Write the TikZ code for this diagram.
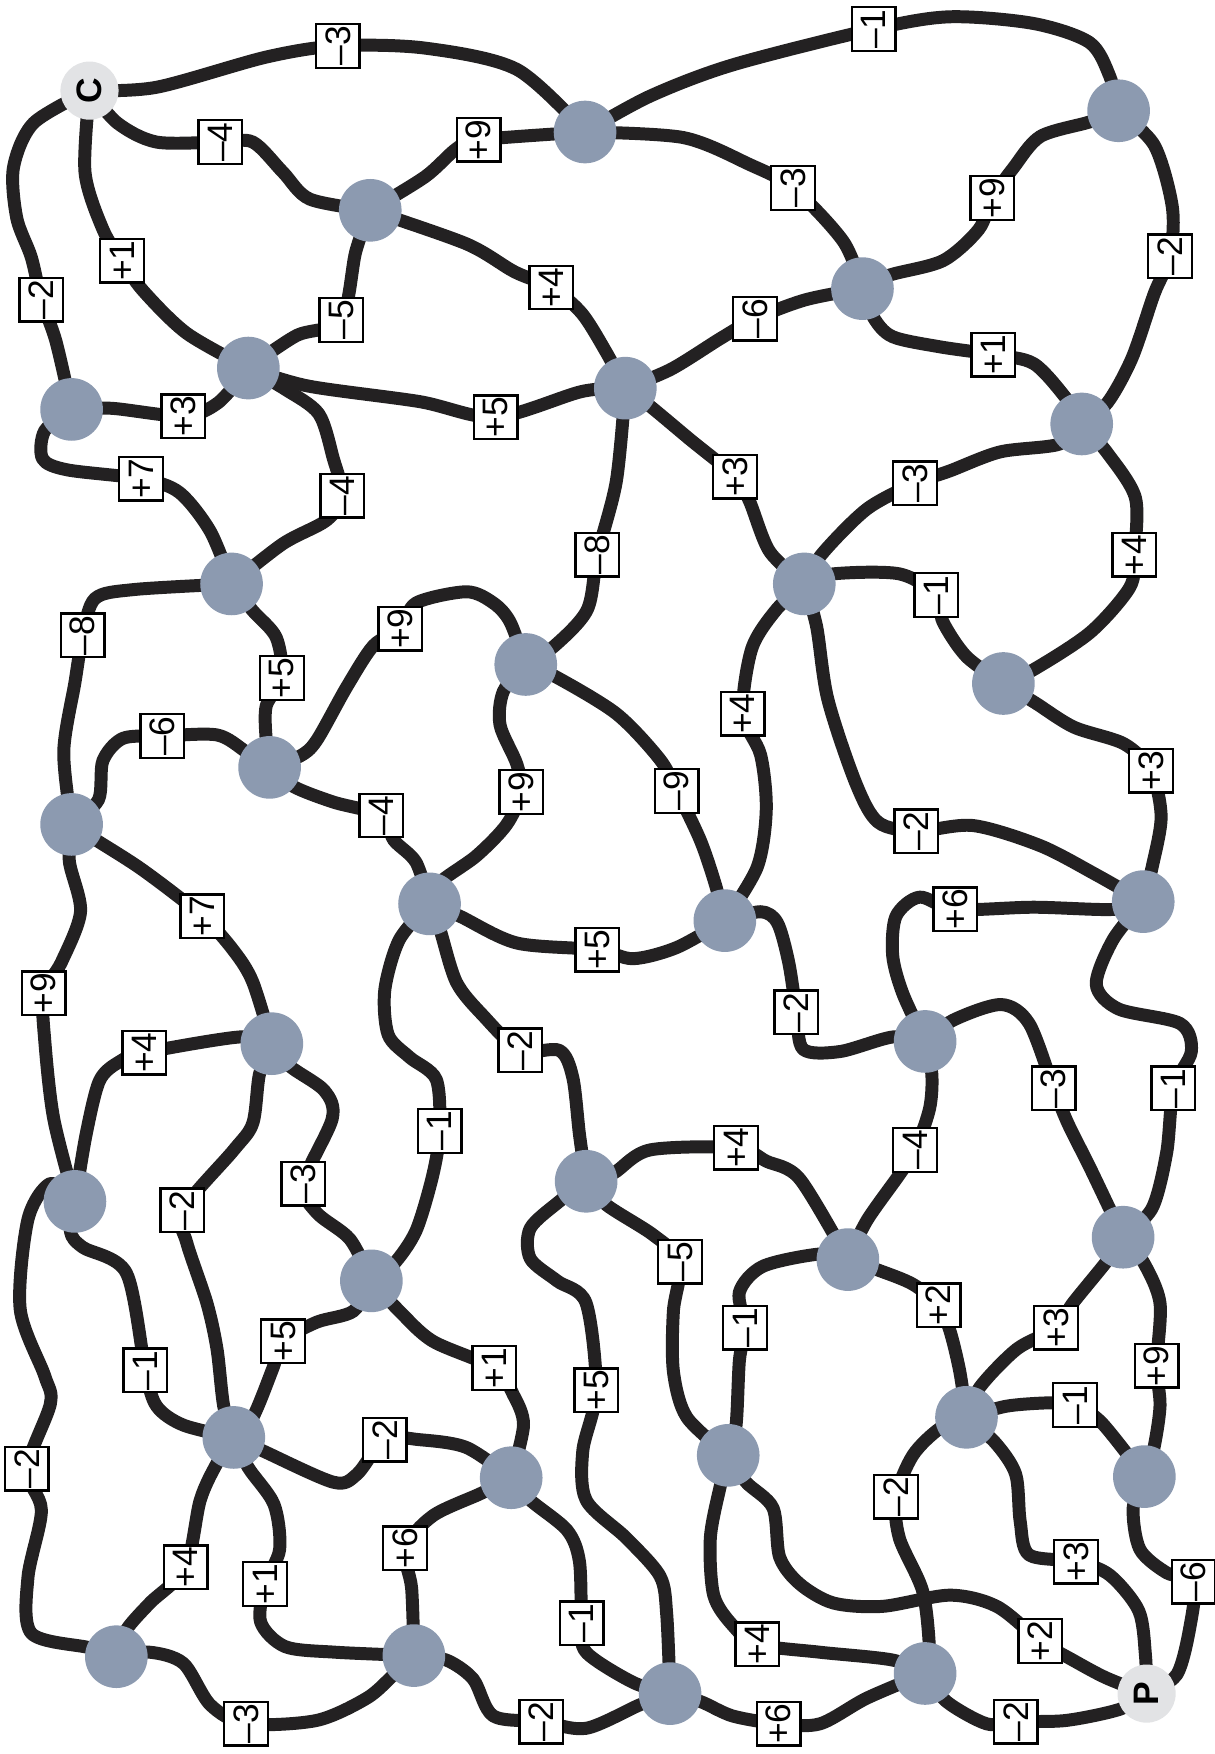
\documentclass[tikz,border=0pt]{standalone}
\usepackage{fontspec}
\setmainfont{Liberation Sans}
\usetikzlibrary{backgrounds}
\definecolor{roadgray}{RGB}{35,33,34}
\definecolor{nodegray}{RGB}{140,154,176}
\definecolor{endgray}{RGB}{226,227,229}
\tikzset{
    maze/.style     = {x=0.1mm, y=-0.1mm},
    road/.style     = {draw=roadgray, line width=3.3pt,
                       line cap=round, line join=round},
    junction/.style = {circle, fill=nodegray, minimum size=5.6mm,
                       inner sep=0pt},
    terminal/.style = {circle, fill=endgray, minimum size=5.2mm,
                       inner sep=0pt, rotate=90,
                       font=\bfseries\fontsize{9}{9}\selectfont},
    weight/.style   = {draw, fill=white, line width=0.6pt, rotate=90,
                       minimum width=3.9mm, minimum height=3.9mm,
                       inner sep=0pt, font=\fontsize{9}{9}\selectfont}
}

\begin{document}
\begin{tikzpicture}[maze]
\useasboundingbox (0,0) rectangle (1086,1568);

% ================= Start and goal =================
\node[terminal] (C) at (80,81) {C};
\node[terminal] (P) at (1025,1514) {P};

% ================= Junctions =================
\node[junction] (n1) at (523,118) {};
\node[junction] (n2) at (1000,99) {};
\node[junction] (n3) at (331,188) {};
\node[junction] (n4) at (771,258) {};
\node[junction] (n5) at (222,329) {};
\node[junction] (n6) at (559,347) {};
\node[junction] (n7) at (64,366) {};
\node[junction] (n8) at (967,379) {};
\node[junction] (n9) at (207,522) {};
\node[junction] (n10) at (719,522) {};
\node[junction] (n11) at (470,594) {};
\node[junction] (n12) at (897,611) {};
\node[junction] (n13) at (241,686) {};
\node[junction] (n14) at (64,737) {};
\node[junction] (n15) at (384,808) {};
\node[junction] (n16) at (648,823) {};
\node[junction] (n17) at (1022,806) {};
\node[junction] (n18) at (243,933) {};
\node[junction] (n19) at (827,931) {};
\node[junction] (n20) at (67,1074) {};
\node[junction] (n21) at (524,1056) {};
\node[junction] (n22) at (332,1145) {};
\node[junction] (n23) at (758,1126) {};
\node[junction] (n24) at (1004,1106) {};
\node[junction] (n25) at (209,1285) {};
\node[junction] (n26) at (457,1321) {};
\node[junction] (n27) at (651,1301) {};
\node[junction] (n28) at (864,1267) {};
\node[junction] (n29) at (1023,1320) {};
\node[junction] (n30) at (104,1481) {};
\node[junction] (n31) at (370,1480) {};
\node[junction] (n32) at (599,1514) {};
\node[junction] (n33) at (827,1496) {};

% ================= Weights =================
\node[weight] (l1) at (302,41) {–3};
\node[weight] (l2) at (781,26) {–1};
\node[weight] (l3) at (1046,229) {–2};
\node[weight] (l4) at (887,177) {+9};
\node[weight] (l5) at (709,168) {–3};
\node[weight] (l6) at (428,125) {+9};
\node[weight] (l7) at (197,127) {–4};
\node[weight] (l8) at (109,233) {+1};
\node[weight] (l9) at (37,268) {–2};
\node[weight] (l10) at (305,286) {–5};
\node[weight] (l11) at (493,257) {+4};
\node[weight] (l12) at (675,285) {–6};
\node[weight] (l13) at (888,317) {+1};
\node[weight] (l14) at (164,372) {+3};
\node[weight] (l15) at (443,373) {+5};
\node[weight] (l16) at (306,443) {–4};
\node[weight] (l17) at (126,428) {+7};
\node[weight] (l18) at (534,496) {–8};
\node[weight] (l19) at (657,426) {+3};
\node[weight] (l20) at (818,432) {–3};
\node[weight] (l21) at (1014,496) {+4};
\node[weight] (l22) at (837,532) {–1};
\node[weight] (l23) at (74,568) {–8};
\node[weight] (l24) at (252,606) {+5};
\node[weight] (l25) at (358,562) {+9};
\node[weight] (l26) at (145,658) {–6};
\node[weight] (l27) at (341,729) {–4};
\node[weight] (l28) at (466,708) {+9};
\node[weight] (l29) at (605,707) {–9};
\node[weight] (l30) at (664,638) {+4};
\node[weight] (l31) at (819,743) {–2};
\node[weight] (l32) at (1029,689) {+3};
\node[weight] (l33) at (181,819) {+7};
\node[weight] (l34) at (39,888) {+9};
\node[weight] (l35) at (534,849) {+5};
\node[weight] (l36) at (393,1011) {–1};
\node[weight] (l37) at (465,939) {–2};
\node[weight] (l38) at (712,905) {–2};
\node[weight] (l39) at (854,813) {+6};
\node[weight] (l40) at (1049,973) {–1};
\node[weight] (l41) at (942,973) {–3};
\node[weight] (l42) at (818,1028) {–4};
\node[weight] (l43) at (129,941) {+4};
\node[weight] (l44) at (271,1058) {–3};
\node[weight] (l45) at (163,1082) {–2};
\node[weight] (l46) at (130,1225) {–1};
\node[weight] (l47) at (24,1313) {–2};
\node[weight] (l48) at (658,1026) {+4};
\node[weight] (l49) at (608,1128) {–5};
\node[weight] (l50) at (533,1243) {+5};
\node[weight] (l51) at (253,1199) {+5};
\node[weight] (l52) at (442,1223) {+1};
\node[weight] (l53) at (666,1187) {–1};
\node[weight] (l54) at (839,1167) {+2};
\node[weight] (l55) at (944,1187) {+3};
\node[weight] (l56) at (1034,1221) {+9};
\node[weight] (l57) at (344,1287) {–2};
\node[weight] (l58) at (166,1401) {+4};
\node[weight] (l59) at (237,1416) {+1};
\node[weight] (l60) at (362,1384) {+6};
\node[weight] (l61) at (520,1451) {–1};
\node[weight] (l62) at (677,1470) {+4};
\node[weight] (l63) at (930,1467) {+2};
\node[weight] (l64) at (961,1256) {–1};
\node[weight] (l65) at (801,1338) {–2};
\node[weight] (l66) at (962,1396) {+3};
\node[weight] (l67) at (1067,1414) {–6};
\node[weight] (l68) at (220,1541) {–3};
\node[weight] (l69) at (484,1539) {–2};
\node[weight] (l70) at (696,1541) {+6};
\node[weight] (l71) at (908,1539) {–2};

% ================= Roads =================
\begin{scope}[on background layer]
\draw[road] plot[smooth] coordinates {(C.center) (140,78) (238,51) (l1.center) (380,43) (462,62) (n1.center)};
\draw[road] plot[smooth] coordinates {(n1.center) (581,86) (655,58) (l2.center) (849,15) (924,21) (974,38) (992,68) (n2.center)};
\draw[road] plot[smooth] coordinates {(n2.center) (1032,130) (1048,185) (l3.center) (1032,262) (1012,320) (990,360) (n8.center)};
\draw[road] plot[smooth] coordinates {(n4.center) (795,246) (843,233) (875,205) (l4.center) (906,150) (930,122) (974,109) (n2.center)};
\draw[road] plot[smooth] coordinates {(n1.center) (611,123) (670,147) (l5.center) (754,216) (n4.center)};
\draw[road] plot[smooth] coordinates {(n3.center) (380,158) (408,133) (l6.center) (n1.center)};
\draw[road] plot[smooth] coordinates {(C.center) (105,110) (140,127) (l7.center) (226,127) (253,154) (277,178) (n3.center)};
\draw[road] plot[smooth] coordinates {(C.center) (76,154) (92,205) (l8.center) (128,260) (167,298) (n5.center)};
\draw[road] plot[smooth] coordinates {(C.center) (30,110) (12,150) (15,195) (28,230) (l9.center) (50,305) (n7.center)};
\draw[road] plot[smooth] coordinates {(n3.center) (318,225) (l10.center) (265,300) (n5.center)};
\draw[road] plot[smooth] coordinates {(n3.center) (417,218) (460,243) (l11.center) (520,280) (542,315) (n6.center)};
\draw[road] plot[smooth] coordinates {(n6.center) (600,330) (645,302) (l12.center) (720,268) (n4.center)};
\draw[road] plot[smooth] coordinates {(n4.center) (781,284) (798,301) (840,310) (l13.center) (924,325) (953,356) (n8.center)};
\draw[road] plot[smooth] coordinates {(n7.center) (100,365) (l14.center) (195,360) (n5.center)};
\draw[road] plot[smooth] coordinates {(n5.center) (275,345) (375,359) (l15.center) (520,350) (n6.center)};
\draw[road] plot[smooth] coordinates {(n5.center) (255,348) (285,370) (298,410) (l16.center) (292,465) (253,486) (n9.center)};
\draw[road] plot[smooth] coordinates {(n7.center) (40,385) (38,410) (60,420) (l17.center) (160,440) (188,475) (n9.center)};
\draw[road] plot[smooth] coordinates {(n6.center) (551,430) (l18.center) (525,545) (495,578) (n11.center)};
\draw[road] plot[smooth] coordinates {(n6.center) (581,363) (617,393) (l19.center) (670,448) (688,493) (n10.center)};
\draw[road] plot[smooth] coordinates {(n8.center) (947,397) (894,404) (849,421) (l20.center) (775,455) (735,495) (n10.center)};
\draw[road] plot[smooth] coordinates {(n8.center) (990,405) (1015,445) (l21.center) (1010,525) (975,565) (925,598) (n12.center)};
\draw[road] plot[smooth] coordinates {(n10.center) (745,513) (804,513) (l22.center) (843,556) (864,587) (n12.center)};
\draw[road] plot[smooth] coordinates {(n9.center) (120,527) (85,535) (l23.center) (67,610) (57,672) (n14.center)};
\draw[road] plot[smooth] coordinates {(n9.center) (226,546) (247,570) (l24.center) (238,631) (238,662) (n13.center)};
\draw[road] plot[smooth] coordinates {(n13.center) (268,676) (283,662) (310,614) (334,577) (l25.center) (372,539) (417,529) (441,539) (456,556) (n11.center)};
\draw[road] plot[smooth] coordinates {(n14.center) (88,715) (92,680) (110,660) (l26.center) (194,657) (220,672) (n13.center)};
\draw[road] plot[smooth] coordinates {(n13.center) (262,703) (298,717) (l27.center) (352,751) (372,771) (n15.center)};
\draw[road] plot[smooth] coordinates {(n11.center) (450,618) (447,648) (462,683) (l28.center) (453,737) (426,765) (393,789) (n15.center)};
\draw[road] plot[smooth] coordinates {(n11.center) (495,604) (551,638) (590,679) (l29.center) (626,751) (639,789) (n16.center)};
\draw[road] plot[smooth] coordinates {(n10.center) (694,545) (672,580) (l30.center) (680,675) (685,724) (677,775) (n16.center)};
\draw[road] plot[smooth] coordinates {(n10.center) (730,560) (740,625) (765,700) (785,735) (l31.center) (870,738) (930,756) (980,782) (n17.center)};
\draw[road] plot[smooth] coordinates {(n12.center) (925,628) (960,650) (1005,665) (l32.center) (1038,730) (1030,775) (n17.center)};
\draw[road] plot[smooth] coordinates {(n14.center) (86,751) (128,778) (l33.center) (209,850) (226,878) (n18.center)};
\draw[road] plot[smooth] coordinates {(n14.center) (62,770) (72,815) (55,860) (l34.center) (40,930) (48,1000) (n20.center)};
\draw[road] plot[smooth] coordinates {(n15.center) (411,819) (462,843) (l35.center) (566,857) (605,847) (n16.center)};
\draw[road] plot[smooth] coordinates {(n15.center) (357,840) (344,885) (347,925) (366,945) (390,965) (l36.center) (387,1050) (372,1100) (352,1130) (n22.center)};
\draw[road] plot[smooth] coordinates {(n15.center) (393,830) (408,878) (432,908) (l37.center) (500,939) (512,963) (518,1014) (n21.center)};
\draw[road] plot[smooth] coordinates {(n16.center) (680,815) (695,825) (705,860) (l38.center) (718,938) (751,940) (798,927) (n19.center)};
\draw[road] plot[smooth] coordinates {(n17.center) (995,813) (924,811) (l39.center) (822,802) (801,819) (798,854) (807,888) (n19.center)};
\draw[road] plot[smooth] coordinates {(n17.center) (995,840) (980,880) (1000,902) (1055,915) (1065,940) (l40.center) (1043,1030) (1030,1080) (n24.center)};
\draw[road] plot[smooth] coordinates {(n19.center) (852,912) (895,898) (920,915) (l41.center) (955,1005) (975,1045) (n24.center)};
\draw[road] plot[smooth] coordinates {(n19.center) (833,960) (831,991) (l42.center) (804,1050) (775,1091) (n23.center)};
\draw[road] plot[smooth] coordinates {(n18.center) (214,927) (l43.center) (107,949) (89,966) (77,1014) (n20.center)};
\draw[road] plot[smooth] coordinates {(n18.center) (259,953) (290,975) (297,1000) (l44.center) (283,1084) (313,1108) (n22.center)};
\draw[road] plot[smooth] coordinates {(n18.center) (232,960) (226,1004) (209,1028) (l45.center) (167,1111) (185,1165) (194,1206) (200,1257) (n25.center)};
\draw[road] plot[smooth] coordinates {(n20.center) (63,1101) (74,1115) (113,1138) (l46.center) (140,1257) (164,1274) (n25.center)};
\draw[road] plot[smooth] coordinates {(n20.center) (45,1058) (25,1090) (18,1170) (40,1230) (45,1255) (l47.center) (37,1350) (25,1410) (28,1460) (80,1473) (n30.center)};
\draw[road] plot[smooth] coordinates {(n21.center) (548,1049) (581,1028) (l48.center) (685,1038) (715,1054) (n23.center)};
\draw[road] plot[smooth] coordinates {(n21.center) (542,1077) (584,1104) (l49.center) (602,1172) (602,1226) (614,1267) (n27.center)};
\draw[road] plot[smooth] coordinates {(n21.center) (500,1074) (474,1098) (474,1125) (498,1145) (524,1165) (l50.center) (521,1297) (524,1341) (560,1375) (590,1409) (596,1443) (n32.center)};
\draw[road] plot[smooth] coordinates {(n22.center) (316,1172) (283,1182) (l51.center) (244,1223) (226,1267) (n25.center)};
\draw[road] plot[smooth] coordinates {(n22.center) (357,1172) (387,1199) (l52.center) (459,1247) (468,1274) (n26.center)};
\draw[road] plot[smooth] coordinates {(n23.center) (733,1121) (682,1132) (661,1155) (l53.center) (661,1216) (658,1274) (n27.center)};
\draw[road] plot[smooth] coordinates {(n23.center) (784,1135) (816,1148) (l54.center) (849,1189) (858,1226) (n28.center)};
\draw[road] plot[smooth] coordinates {(n24.center) (989,1128) (959,1165) (l55.center) (909,1206) (876,1240) (n28.center)};
\draw[road] plot[smooth] coordinates {(n24.center) (1022,1128) (1037,1165) (l56.center) (1037,1257) (1031,1297) (n29.center)};
\draw[road] plot[smooth] coordinates {(n25.center) (235,1297) (298,1325) (319,1318) (l57.center) (375,1287) (417,1294) (n26.center)};
\draw[road] plot[smooth] coordinates {(n25.center) (194,1308) (179,1341) (l58.center) (134,1433) (113,1457) (n30.center)};
\draw[road] plot[smooth] coordinates {(n25.center) (222,1312) (245,1345) (250,1385) (l59.center) (233,1450) (255,1472) (300,1477) (n31.center)};
\draw[road] plot[smooth] coordinates {(n26.center) (430,1335) (387,1355) (l60.center) (368,1420) (n31.center)};
\draw[road] plot[smooth] coordinates {(n26.center) (474,1341) (507,1368) (518,1396) (l61.center) (524,1477) (566,1504) (n32.center)};
\draw[road] plot[smooth] coordinates {(n27.center) (644,1328) (635,1375) (638,1426) (655,1453) (l62.center) (733,1477) (798,1484) (n33.center)};
\draw[road] plot[smooth] coordinates {(n27.center) (667,1325) (691,1348) (697,1392) (715,1416) (745,1433) (789,1436) (849,1426) (891,1436) (l63.center) (959,1484) (989,1500) (P.center)};
\draw[road] plot[smooth] coordinates {(n28.center) (900,1257) (940,1254) (l64.center) (985,1272) (n29.center)};
\draw[road] plot[smooth] coordinates {(n28.center) (840,1277) (816,1301) (l65.center) (804,1375) (825,1423) (831,1477) (n33.center)};
\draw[road] plot[smooth] coordinates {(n28.center) (890,1290) (908,1318) (912,1360) (920,1390) (l66.center) (992,1408) (1018,1440) (1024,1480) (P.center)};
\draw[road] plot[smooth] coordinates {(n29.center) (1013,1348) (1019,1385) (1043,1406) (l67.center) (1064,1453) (1052,1497) (P.center)};
\draw[road] plot[smooth] coordinates {(n30.center) (134,1477) (164,1487) (188,1524) (l68.center) (283,1538) (328,1518) (352,1497) (n31.center)};
\draw[road] plot[smooth] coordinates {(n31.center) (399,1484) (423,1501) (441,1534) (l69.center) (524,1545) (572,1524) (n32.center)};
\draw[road] plot[smooth] coordinates {(n32.center) (626,1521) (655,1534) (l70.center) (733,1541) (775,1518) (n33.center)};
\draw[road] plot[smooth] coordinates {(n33.center) (846,1521) (882,1541) (l71.center) (953,1538) (1001,1528) (P.center)};
\end{scope}

\end{tikzpicture}
\end{document}
